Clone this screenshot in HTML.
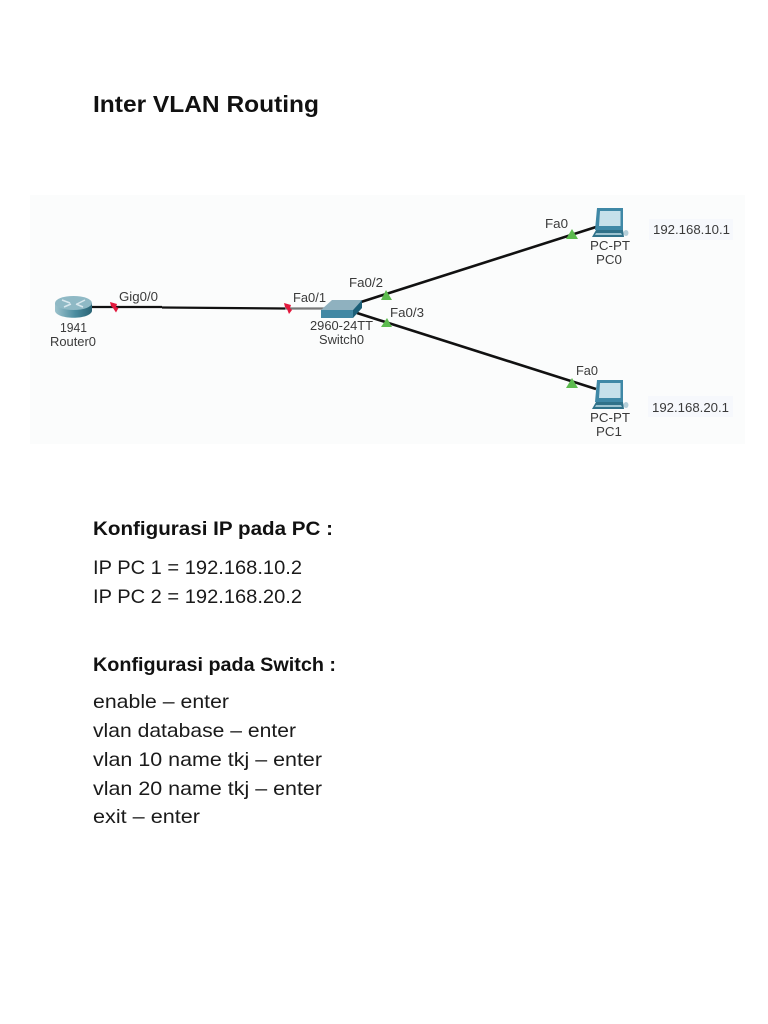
<!DOCTYPE html>
<html><head><meta charset="utf-8"><style>
html,body{margin:0;padding:0;background:#fff;width:768px;height:1024px;overflow:hidden}
svg{display:block}
.t{font-family:"Liberation Sans",sans-serif;font-size:19.500px;fill:#1a1a1a}
.b{font-weight:bold;font-size:19.500px;fill:#111}
.h{font-weight:bold;font-size:23.500px;fill:#111}
.l{font-family:"Liberation Sans",sans-serif;font-size:13px;fill:#3a3a3a}
</style></head><body>
<svg width="768" height="1024" viewBox="0 0 768 1024" xmlns="http://www.w3.org/2000/svg">
<defs>
<linearGradient id="rt" x1="0" x2="1" y1="0" y2="0"><stop offset="0" stop-color="#9cc2cc"/><stop offset=".55" stop-color="#4a8c9f"/><stop offset="1" stop-color="#2a6475"/></linearGradient>
<g id="pc">
<path d="M3 0H29V22H1z" fill="#3f88a6"/>
<path d="M6 3H26.500V18H5z" fill="#c6e0ea"/>
<path d="M2 22H29L30 29H-2z" fill="#2f7189"/>
<path d="M2 25H27L28 27H1z" fill="#9cc3d0"/>
<ellipse cx="32" cy="25" rx="2.500" ry="3" fill="#b5cfd9"/>
</g>
</defs>
<rect width="768" height="1024" fill="#fff"/>
<rect x="30" y="195" width="715" height="249" fill="#fbfcfc"/>
<rect x="649" y="219" width="84" height="21" fill="#f6f8fc"/>
<rect x="648" y="396" width="85" height="21" fill="#f6f8fc"/>

<line x1="90" y1="307" x2="162" y2="307" stroke="#111" stroke-width="2.200"/>
<line x1="162" y1="307.500" x2="285" y2="308.500" stroke="#111" stroke-width="2.200"/>
<line x1="285" y1="308.500" x2="325" y2="308.500" stroke="#777" stroke-width="2.200"/>
<line x1="361" y1="302" x2="596" y2="227" stroke="#111" stroke-width="2.600"/>
<line x1="357" y1="313" x2="596" y2="389" stroke="#111" stroke-width="2.600"/>

<path d="M110 302L117 304L116 307L118.500 308L116 312.500L113 308L111 306z" fill="#e2183c"/>
<path d="M284 303L291 305L290 308L292 310L289 314L287 309L285 307z" fill="#e2183c"/>
<path d="M381 300L386 290L392 300z" fill="#5cbb4e"/>
<path d="M381 327L387 318L392 327z" fill="#5cbb4e"/>
<path d="M566 239L572 229L578 239z" fill="#5cbb4e"/>
<path d="M566 388L572 378L578 388z" fill="#5cbb4e"/>

<path d="M55 303V311C57 320 90 320 92 311V303z" fill="url(#rt)"/>
<ellipse cx="73.500" cy="303" rx="18.500" ry="7" fill="#8fb9c5"/>
<path d="M62 300L70 303M85 300L77 304M64 307L71 304M83 307L76 304" stroke="#d8e8ee" stroke-width="1.500"/>

<path d="M321 310L332 300H362L353 310z" fill="#8fb1bf"/>
<path d="M321 310H353V318H321z" fill="#4288a4"/>
<path d="M353 310L362 300V308L353 318z" fill="#1c5f78"/>

<use href="#pc" x="594" y="208"/>
<use href="#pc" x="594" y="380"/>

<text class="l" x="119" y="301" textLength="39" lengthAdjust="spacingAndGlyphs">Gig0/0</text>
<text class="l" x="60" y="332" textLength="27" lengthAdjust="spacingAndGlyphs">1941</text>
<text class="l" x="50" y="346" textLength="46" lengthAdjust="spacingAndGlyphs">Router0</text>
<text class="l" x="293" y="302" textLength="33" lengthAdjust="spacingAndGlyphs">Fa0/1</text>
<text class="l" x="349" y="287" textLength="34" lengthAdjust="spacingAndGlyphs">Fa0/2</text>
<text class="l" x="390" y="317" textLength="34" lengthAdjust="spacingAndGlyphs">Fa0/3</text>
<text class="l" x="310" y="330" textLength="63" lengthAdjust="spacingAndGlyphs">2960-24TT</text>
<text class="l" x="319" y="344" textLength="45" lengthAdjust="spacingAndGlyphs">Switch0</text>
<text class="l" x="545" y="228" textLength="23" lengthAdjust="spacingAndGlyphs">Fa0</text>
<text class="l" x="590" y="250" textLength="40" lengthAdjust="spacingAndGlyphs">PC-PT</text>
<text class="l" x="596" y="264" textLength="26" lengthAdjust="spacingAndGlyphs">PC0</text>
<text class="l" x="576" y="375" textLength="22" lengthAdjust="spacingAndGlyphs">Fa0</text>
<text class="l" x="590" y="422" textLength="40" lengthAdjust="spacingAndGlyphs">PC-PT</text>
<text class="l" x="596" y="436" textLength="26" lengthAdjust="spacingAndGlyphs">PC1</text>
<text class="l" x="653" y="234" textLength="77" lengthAdjust="spacingAndGlyphs">192.168.10.1</text>
<text class="l" x="652" y="412" textLength="77" lengthAdjust="spacingAndGlyphs">192.168.20.1</text>

<text class="t h" x="93" y="112" textLength="226" lengthAdjust="spacingAndGlyphs">Inter VLAN Routing</text>
<text class="t b" x="93" y="535" textLength="240" lengthAdjust="spacingAndGlyphs">Konfigurasi IP pada PC :</text>
<text class="t" x="93" y="574" textLength="209" lengthAdjust="spacingAndGlyphs">IP PC 1 = 192.168.10.2</text>
<text class="t" x="93" y="603" textLength="209" lengthAdjust="spacingAndGlyphs">IP PC 2 = 192.168.20.2</text>
<text class="t b" x="93" y="671" textLength="243" lengthAdjust="spacingAndGlyphs">Konfigurasi pada Switch :</text>
<text class="t" x="93" y="708" textLength="136" lengthAdjust="spacingAndGlyphs">enable – enter</text>
<text class="t" x="93" y="737" textLength="203" lengthAdjust="spacingAndGlyphs">vlan database – enter</text>
<text class="t" x="93" y="766" textLength="229" lengthAdjust="spacingAndGlyphs">vlan 10 name tkj – enter</text>
<text class="t" x="93" y="795" textLength="229" lengthAdjust="spacingAndGlyphs">vlan 20 name tkj – enter</text>
<text class="t" x="93" y="823" textLength="107" lengthAdjust="spacingAndGlyphs">exit – enter</text>
</svg>
</body></html>
